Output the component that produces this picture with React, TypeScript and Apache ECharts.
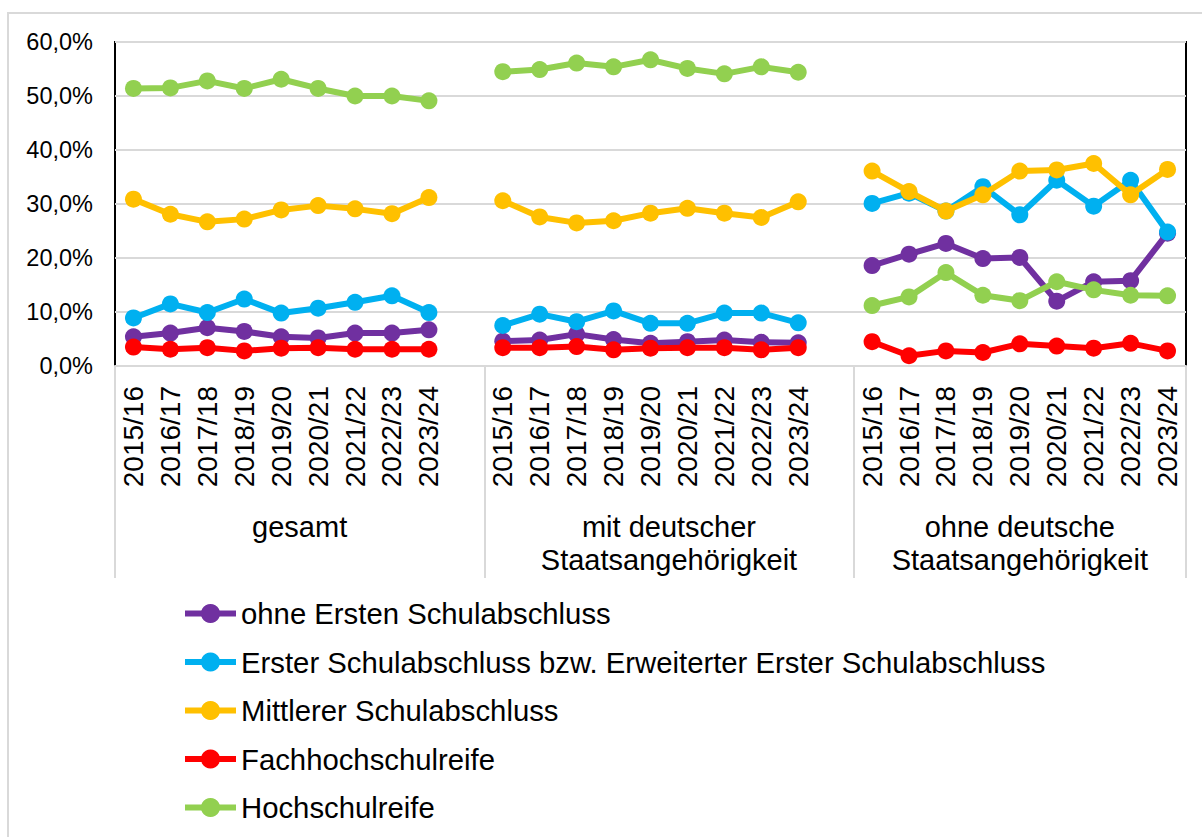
import React, { useEffect, useRef } from "react";
import * as echarts from "echarts";

const years = ["2015/16", "2016/17", "2017/18", "2018/19", "2019/20", "2020/21", "2021/22", "2022/23", "2023/24"];
const groupNames = ["gesamt", "mit deutscher\nStaatsangehörigkeit", "ohne deutsche\nStaatsangehörigkeit"];
const groupCenters = [4.5, 14.5, 24];
const yTicks = [0, 10, 20, 30, 40, 50, 60];

const seriesNames = [
  "ohne Ersten Schulabschluss",
  "Erster Schulabschluss bzw. Erweiterter Erster Schulabschluss",
  "Mittlerer Schulabschluss",
  "Fachhochschulreife",
  "Hochschulreife",
];
const seriesColors = ["#7030A0", "#00B0F0", "#FFC000", "#FF0000", "#92D050"];

// gesamt
const ohneErsten_gesamt = [5.4, 6.1, 7.1, 6.4, 5.4, 5.2, 6.1, 6.1, 6.7];
const ersterSA_gesamt = [8.9, 11.5, 9.9, 12.4, 9.8, 10.7, 11.8, 13.0, 9.9];
const mittlerer_gesamt = [30.9, 28.1, 26.7, 27.2, 28.9, 29.7, 29.1, 28.2, 31.2];
const fhr_gesamt = [3.5, 3.1, 3.4, 2.8, 3.3, 3.4, 3.1, 3.1, 3.1];
const hsr_gesamt = [51.4, 51.5, 52.8, 51.4, 53.1, 51.4, 50.0, 50.0, 49.1];

// mit deutscher Staatsangehörigkeit
const ohneErsten_mitDt = [4.6, 4.8, 5.9, 4.9, 4.2, 4.5, 4.8, 4.4, 4.3];
const ersterSA_mitDt = [7.5, 9.6, 8.2, 10.2, 7.9, 7.9, 9.8, 9.8, 8.0];
const mittlerer_mitDt = [30.6, 27.6, 26.5, 26.9, 28.3, 29.2, 28.3, 27.5, 30.4];
const fhr_mitDt = [3.4, 3.4, 3.6, 3.0, 3.3, 3.4, 3.4, 3.0, 3.4];
const hsr_mitDt = [54.5, 54.9, 56.1, 55.4, 56.7, 55.1, 54.1, 55.4, 54.4];

// ohne deutsche Staatsangehörigkeit
const ohneErsten_ohneDt = [18.6, 20.7, 22.7, 19.9, 20.1, 12.0, 15.6, 15.8, 24.6];
const ersterSA_ohneDt = [30.1, 32.0, 28.7, 33.2, 28.0, 34.4, 29.6, 34.4, 24.8];
const mittlerer_ohneDt = [36.1, 32.3, 28.7, 31.7, 36.1, 36.3, 37.5, 31.7, 36.4];
const fhr_ohneDt = [4.5, 1.9, 2.8, 2.5, 4.1, 3.7, 3.3, 4.2, 2.8];
const hsr_ohneDt = [11.2, 12.8, 17.3, 13.1, 12.1, 15.6, 14.1, 13.1, 13.0];

const seriesGroups = [
  [ohneErsten_gesamt, ohneErsten_mitDt, ohneErsten_ohneDt],
  [ersterSA_gesamt, ersterSA_mitDt, ersterSA_ohneDt],
  [mittlerer_gesamt, mittlerer_mitDt, mittlerer_ohneDt],
  [fhr_gesamt, fhr_mitDt, fhr_ohneDt],
  [hsr_gesamt, hsr_mitDt, hsr_ohneDt],
];

const categories = [...years, "", ...years, "", ...years];
const boundaryIdx = [0, 10, 20];

const FONT = "'Liberation Sans', Arial, sans-serif";

export default function App() {
  const ref = useRef<HTMLDivElement>(null);
  useEffect(() => {
    if (!ref.current) return;
    const chart = echarts.init(ref.current, null, { renderer: "svg" });
    const series = seriesGroups.map((g, i) => ({
      name: seriesNames[i],
      type: "line",
      data: [...g[0], "-", ...g[1], "-", ...g[2]],
      color: seriesColors[i],
      symbol: "circle",
      symbolSize: 17,
      lineStyle: { width: 6, color: seriesColors[i] },
      itemStyle: { color: seriesColors[i] },
      connectNulls: false,
      z: 2 + i,
    }));
    chart.setOption({
      animation: false,
      backgroundColor: "#ffffff",
      textStyle: { fontFamily: FONT },
      graphic: [
        {
          type: "rect",
          shape: { x: 8, y: 13, width: 1400, height: 1000 },
          style: { fill: "none", stroke: "#d9d9d9", lineWidth: 2 },
          silent: true,
          z: -10,
        },
      ],
      grid: {
        left: 115,
        top: 42,
        width: 1071,
        height: 324,
        show: true,
        borderColor: "#000000",
        borderWidth: 2,
        containLabel: false,
      },
      legend: {
        orient: "vertical",
        left: 182,
        top: 598,
        padding: 0,
        itemWidth: 51,
        itemHeight: 24,
        itemGap: 17.5,
        data: seriesNames,
        lineStyle: { width: 6 },
        textStyle: { fontSize: 29.3, color: "#000", fontFamily: FONT, lineHeight: 31 },
      },
      xAxis: [
        {
          type: "category",
          data: categories,
          boundaryGap: true,
          axisLine: { show: true, lineStyle: { color: "#d9d9d9", width: 2 } },
          axisTick: {
            show: true,
            interval: (idx: number) => boundaryIdx.includes(idx),
            length: 212,
            lineStyle: { color: "#d9d9d9", width: 2 },
          },
          axisLabel: {
            interval: 0,
            rotate: 90,
            margin: 20,
            fontSize: 28,
            color: "#000",
            fontFamily: FONT,
          },
          splitLine: { show: false },
        },
        {
          type: "value",
          position: "bottom",
          min: -0.5,
          max: 28.5,
          axisLine: { show: false },
          axisTick: { show: false },
          splitLine: { show: false },
          axisLabel: {
            customValues: groupCenters,
            margin: 144,
            fontSize: 29,
            lineHeight: 33,
            color: "#000",
            fontFamily: FONT,
            align: "center",
            formatter: (v: number) => {
              const k = groupCenters.findIndex((c) => Math.abs(c - v) < 1e-6);
              return k >= 0 ? groupNames[k] : "";
            },
          },
        },
      ],
      yAxis: {
        type: "value",
        min: 0,
        max: 60,
        interval: 10,
        axisLine: { show: false },
        axisTick: { show: false },
        splitLine: { show: true, lineStyle: { color: "#d9d9d9", width: 2 } },
        axisLabel: {
          margin: 22,
          fontSize: 23.5,
          color: "#000",
          fontFamily: FONT,
          customValues: yTicks,
          formatter: (v: number) => v.toFixed(1).replace(".", ",") + "%",
        },
      },
      series,
    });
    return () => chart.dispose();
  }, []);
  return (
    <div
      ref={ref}
      style={{ position: "fixed", left: 0, top: 0, width: 1202, height: 837, background: "#fff" }}
    />
  );
}
